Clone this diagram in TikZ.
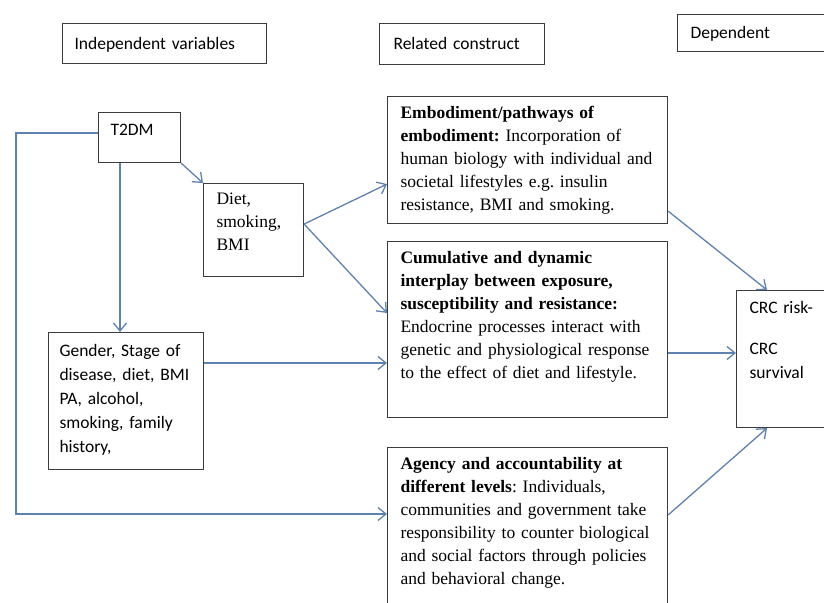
\documentclass[tikz,border=0pt]{standalone}
\usepackage{fontspec}
\setmainfont{Liberation Serif}
\newfontfamily\calibfont{Carlito}
\usetikzlibrary{arrows.meta,calc}
\definecolor{LinkBlue}{HTML}{5E82B0}
\definecolor{FrameGrey}{HTML}{3C3C3C}
\frenchspacing

\begin{document}
\begin{tikzpicture}[x=1pt, y=-1pt, every node/.style={inner ysep=0pt, inner xsep=13pt, anchor=north west, align=left}, card/.style={draw=FrameGrey, line width=1.1pt, fill=white}, sans/.style={font=\calibfont\fontsize{17.5}{24}\selectfont}, serif/.style={font=\frenchspacing\fontsize{17.5}{23}\selectfont}, arrow/.style={-{Straight Barb[length=8pt,width=13pt]}, color=LinkBlue, line width=1.3pt}]
\useasboundingbox (0,0) rectangle (824,602);
% column headers
\node[card, sans, inner xsep=12pt, text width=180pt, text height=26pt, text depth=14pt] (indep) at (62,23) {Independent variables};
\node[card, sans, inner xsep=14pt, text width=137pt, text height=26pt, text depth=15pt] (related) at (379,23) {Related construct};
\node[card, sans, text width=157pt, text height=24pt, text depth=13pt] (dep) at (677,14) {Dependent};
% independent variables
\node[card, sans, inner xsep=12pt, text width=58pt, text height=23pt, text depth=27pt] (t2dm) at (98,112) {T2DM};
\node[card, serif, text width=74pt, text height=21pt, text depth=72pt] (diet) at (203,183) {Diet,\\smoking,\\BMI};
\node[card, sans, inner xsep=11pt, text width=133pt, text height=24pt, text depth=113pt] (gender) at (48,332) {Gender, Stage of\\disease, diet, BMI\\PA, alcohol,\\smoking, family\\history,};
% related constructs
\node[card, serif, text width=254pt, text height=22pt, text depth=105pt] (emb) at (387,96) {\textbf{Embodiment/pathways of}\\\textbf{embodiment:} Incorporation of\\human biology with individual and\\societal lifestyles e.g. insulin\\resistance, BMI and smoking.};
\node[card, serif, text width=254pt, text height=22pt, text depth=154pt] (cum) at (387,241) {\textbf{Cumulative and dynamic}\\\textbf{interplay between exposure,}\\\textbf{susceptibility and resistance:}\\Endocrine processes interact with\\genetic and physiological response\\to the effect of diet and lifestyle.};
\node[card, serif, text width=254pt, text height=22pt, text depth=175pt] (agency) at (387,447) {\textbf{Agency and accountability at}\\\textbf{different levels}: Individuals,\\communities and government take\\responsibility to counter biological\\and social factors through policies\\and behavioral change.};
% dependent
\node[card, sans, text width=98pt, text height=23pt, text depth=114pt] (crc) at (736,290) {CRC risk-\\[17pt]CRC\\survival};
% connectors
\coordinate (t2dmfoot) at ($(t2dm.south west)+(22,0)$);
\coordinate (t2dmside) at ($(t2dm.north west)+(0,21)$);
\coordinate (loopcorner) at (16,514);
\coordinate (genderside) at ($(gender.north east)+(0,31)$);
\coordinate (cumside) at ($(cum.north east)+(0,112)$);
\draw[arrow] (t2dm.south east) -- (diet.north west);
\draw[arrow] (t2dmfoot) -- (t2dmfoot |- gender.north);
\draw[arrow] (t2dmside) -| (loopcorner) -- (loopcorner -| agency.west);
\draw[arrow] ($(diet.east)+(0,-6)$) -- ($(emb.south west)+(0,-40)$);
\draw[arrow] ($(diet.east)+(0,-6)$) -- ($(cum.north west)+(0,72)$);
\draw[arrow] (genderside) -- (genderside -| cum.west);
\draw[arrow] ($(emb.south east)+(0,-13)$) -- ($(crc.north west)+(31,0)$);
\draw[arrow] (cumside) -- (cumside -| crc.west);
\draw[arrow] ($(agency.north east)+(0,68)$) -- ($(crc.south west)+(31,0)$);
\end{tikzpicture}
\end{document}
